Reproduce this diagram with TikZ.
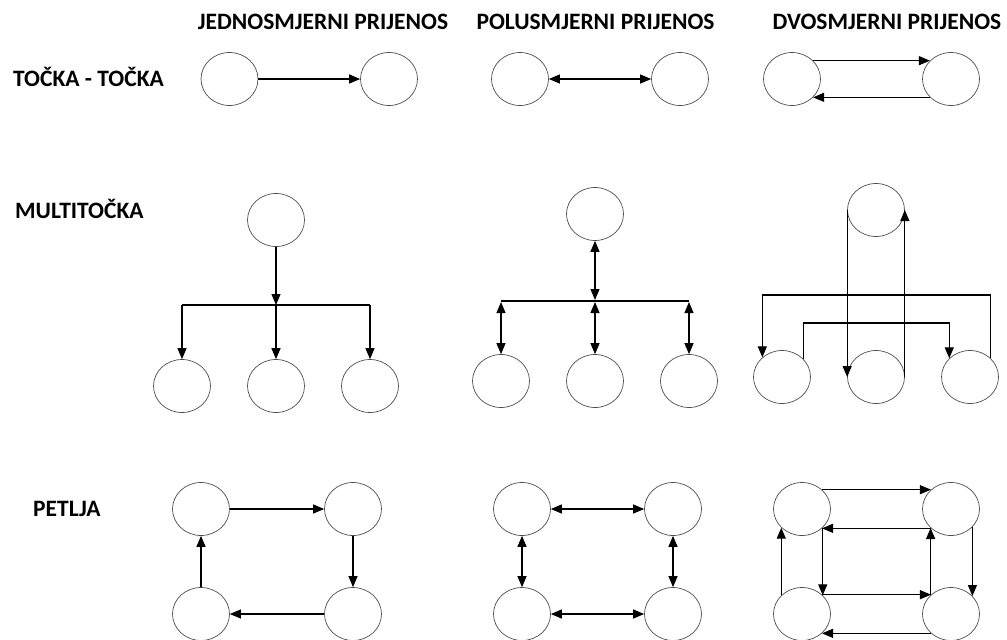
\documentclass[tikz,border=0pt]{standalone}
\usepackage{fontspec}
\setmainfont{Carlito}
\usetikzlibrary{arrows.meta,shapes.geometric}
\begin{document}
\begin{tikzpicture}[x=1pt,y=-1pt,
  nd/.style={shape=ellipse, draw=black!70, line width=0.7pt, minimum width=57pt, minimum height=53pt, inner sep=0pt},
  conn/.style={line width=1.2pt, -{Triangle[length=11pt,width=9pt]}},
  dconn/.style={line width=1.2pt, {Triangle[length=11pt,width=9pt]}-{Triangle[length=11pt,width=9pt]}},
  plain/.style={line width=1.2pt},
  hdr/.style={font=\fontsize{23.5}{26}\selectfont\bfseries, anchor=base, inner sep=0pt},
  lbl/.style={font=\fontsize{23.5}{26}\selectfont\bfseries, anchor=base west, inner sep=0pt}
]
\useasboundingbox (0,0) rectangle (1007,640);

% headers
\node[hdr] (h1) at (323,29.5) {JEDNOSMJERNI PRIJENOS};
\node[hdr] (h2) at (595.5,29.5) {POLUSMJERNI PRIJENOS};
\node[hdr] (h3) at (887,29.5) {DVOSMJERNI PRIJENOS};
% row labels
\node[lbl] (r1) at (13,86) {TOČKA - TOČKA};
\node[lbl] (r2) at (15,218) {MULTITOČKA};
\node[lbl] (r3) at (33,516) {PETLJA};

% ---- row 1: point to point
\node[nd] (JA1) at (229.5,79) {};
\node[nd] (JA2) at (389,79) {};
\draw[conn] (JA1) -- (JA2);
\node[nd] (PA1) at (520,79) {};
\node[nd] (PA2) at (680,79) {};
\draw[dconn] (PA1) -- (PA2);
\node[nd] (DA1) at (792,79) {};
\node[nd] (DA2) at (951,79) {};
\draw[conn] (DA1.41) -- (DA2.139);
\draw[conn] (DA2.-139) -- (DA1.-41);

% ---- row 2: multipoint
\node[nd] (JM0) at (276,220) {};
\node[nd] (JM1) at (182,386) {};
\node[nd] (JM2) at (276,386) {};
\node[nd] (JM3) at (370,386) {};
\coordinate (jb) at (276,305);
\draw[conn] (JM0) -- (jb);
\draw[plain] (jb -| JM1) -- (jb -| JM3);
\draw[conn] (jb -| JM1) -- (JM1);
\draw[conn] (jb) -- (JM2);
\draw[conn] (jb -| JM3) -- (JM3);

\node[nd] (PM0) at (595,214) {};
\node[nd] (PM1) at (501,381) {};
\node[nd] (PM2) at (595,381) {};
\node[nd] (PM3) at (689,381) {};
\coordinate (pb) at (595,301);
\draw[dconn] (PM0) -- ([yshift=1pt]pb);
\draw[plain] (pb -| PM1) -- (pb -| PM3);
\draw[dconn] ([yshift=-1pt]pb -| PM1) -- (PM1);
\draw[dconn] ([yshift=-1pt]pb) -- (PM2);
\draw[dconn] ([yshift=-1pt]pb -| PM3) -- (PM3);

\node[nd] (DM0) at (876,210) {};
\node[nd] (DM1) at (782,377) {};
\node[nd] (DM2) at (876,377) {};
\node[nd] (DM3) at (970,377) {};
\coordinate (dmo) at (876,295);
\coordinate (dmi) at (876,323);
\draw[conn] (DM0.west) -- (DM2.west);
\draw[conn] (DM2.east) -- (DM0.east);
\draw[conn] (DM3.42) -- (DM3.42 |- dmo) -- (DM1.135 |- dmo) -- (DM1.135);
\draw[conn] (DM1.40) -- (DM1.40 |- dmi) -- (DM3.138 |- dmi) -- (DM3.138);

% ---- row 3: loop
\node[nd] (JL1) at (201,509) {};
\node[nd] (JL2) at (353,509) {};
\node[nd] (JL3) at (201,614) {};
\node[nd] (JL4) at (353,614) {};
\draw[conn] (JL1) -- (JL2);
\draw[conn] (JL2) -- (JL4);
\draw[conn] (JL4) -- (JL3);
\draw[conn] (JL3) -- (JL1);

\node[nd] (PL1) at (522,509) {};
\node[nd] (PL2) at (673,509) {};
\node[nd] (PL3) at (522,614) {};
\node[nd] (PL4) at (673,614) {};
\draw[dconn] (PL1) -- (PL2);
\draw[dconn] (PL2) -- (PL4);
\draw[dconn] (PL4) -- (PL3);
\draw[dconn] (PL3) -- (PL1);

\node[nd] (DL1) at (802,509) {};
\node[nd] (DL2) at (951,509) {};
\node[nd] (DL3) at (802,614) {};
\node[nd] (DL4) at (951,614) {};
\draw[conn] (DL1.44) -- (DL2.136);
\draw[conn] (DL2.-136) -- (DL1.-44);
\draw[conn] (DL2.-40) -- (DL4.40);
\draw[conn] (DL1.-42) -- (DL3.42);
\draw[conn] (DL4.137) -- (DL2.-137);
\draw[conn] (DL3.138) -- (DL1.-138);
\draw[conn] (DL3.44) -- (DL4.136);
\draw[conn] (DL4.-136) -- (DL3.-44);
\end{tikzpicture}
\end{document}
